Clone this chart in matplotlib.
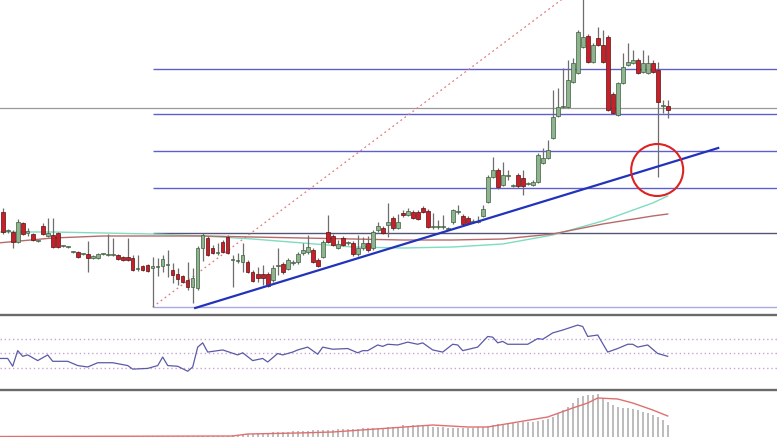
import matplotlib.pyplot as plt
import numpy as np
from matplotlib.patches import Ellipse
from matplotlib.lines import Line2D

# --- Candles (price units, one per bar) ---
opens = [102, 83, 82, 72, 91, 81, 80, 73, 88, 78,
         79, 81, 68, 67, 62, 62, 60, 60, 56, 56,
         60, 59, 59, 59, 57, 57, 56, 45, 48, 49,
         46, 47, 48, 49, 44, 40, 38, 34, 27, 26,
         66, 76, 66, 61, 72, 77, 54, 53, 52, 52,
         42, 40, 40, 40, 34, 48, 50, 45, 51, 52,
         61, 62, 64, 54, 57, 82, 78, 66, 76, 71,
         71, 60, 66, 71, 66, 84, 86, 89, 96, 86,
         101, 99, 102, 102, 106, 103, 87, 87, 87, 85,
         92, 102, 98, 96, 92, 92, 98, 112, 137, 144,
         129, 138, 128, 139, 136, 130, 129, 132, 151, 156,
         176, 198, 207, 207, 232, 241, 267, 278, 252, 276,
         269, 277, 220, 199, 231, 249, 251, 254, 242, 241,
         251, 244, 208, 208]
highs = [106, 85, 84, 95, 92, 86, 81, 74, 91, 96,
         96, 82, 69, 68, 63, 63, 61, 73, 59, 61,
         61, 80, 76, 60, 58, 76, 59, 59, 49, 50,
         57, 56, 59, 64, 51, 46, 39, 52, 46, 68,
         81, 78, 69, 71, 74, 79, 59, 61, 71, 54,
         44, 47, 49, 42, 49, 66, 52, 56, 54, 62,
         71, 79, 66, 56, 74, 99, 80, 74, 78, 73,
         73, 79, 77, 78, 84, 92, 88, 111, 98, 100,
         104, 106, 104, 104, 108, 105, 101, 94, 99, 87,
         105, 109, 100, 98, 95, 98, 109, 139, 157, 146,
         152, 144, 130, 141, 144, 132, 134, 161, 166, 174,
         224, 226, 246, 254, 256, 284, 319, 280, 271, 287,
         284, 279, 222, 232, 261, 271, 264, 256, 264, 259,
         254, 252, 214, 214]
lows = [80, 81, 66, 71, 79, 78, 73, 72, 79, 77,
        66, 66, 67, 66, 61, 56, 59, 42, 55, 55,
        59, 58, 58, 54, 53, 53, 43, 43, 43, 42,
        7, 38, 42, 37, 31, 29, 31, 24, 11, 24,
        53, 58, 60, 59, 61, 60, 27, 51, 42, 41,
        32, 32, 29, 27, 32, 39, 40, 44, 49, 50,
        59, 60, 51, 47, 56, 71, 68, 65, 68, 69,
        58, 58, 64, 62, 64, 82, 80, 77, 84, 85,
        97, 98, 95, 94, 101, 86, 85, 85, 85, 84,
        90, 100, 89, 90, 91, 91, 97, 111, 136, 125,
        128, 134, 127, 126, 119, 129, 128, 131, 150, 155,
        175, 197, 206, 206, 231, 240, 266, 251, 251, 268,
        251, 203, 200, 198, 230, 248, 250, 240, 241, 240,
        241, 137, 201, 196]
closes = [82, 83, 72, 92, 80, 83, 74, 73, 80, 81,
          67, 67, 68, 67, 62, 57, 60, 56, 58, 60,
          60, 60, 59, 55, 54, 54, 44, 45, 44, 43,
          48, 48, 55, 49, 39, 35, 32, 27, 36, 66,
          79, 59, 61, 61, 62, 61, 54, 53, 59, 42,
          33, 36, 36, 28, 46, 49, 42, 54, 51, 60,
          64, 67, 52, 48, 72, 72, 69, 70, 69, 71,
          60, 66, 71, 64, 82, 88, 81, 92, 86, 92,
          99, 103, 96, 95, 102, 87, 87, 88, 87, 85,
          104, 103, 90, 91, 92, 93, 105, 137, 144, 127,
          139, 139, 128, 128, 128, 130, 132, 159, 156, 164,
          197, 207, 207, 234, 251, 282, 277, 252, 269, 269,
          252, 204, 201, 231, 247, 252, 254, 241, 251, 251,
          242, 212, 208, 204]

# --- Moving averages (sampled at bar index) ---
ma_idx = [-1, 10, 20, 30, 40, 50, 60, 70, 80, 90, 100, 110, 120, 130, 133]
ma_fast = [82, 82, 81, 80, 78, 75, 71, 67, 66, 67, 70, 79, 93, 111, 118]
ma_slow = [71, 76, 78, 78, 78, 77, 76, 75, 74, 74, 75, 80, 90, 98, 100]

# --- Drawing tools ---
fib_low_idx, fib_low = 30, 7
fib_high_idx, fib_high = 113, 319
fib_ratios = [0, 0.236, 0.382, 0.5, 0.618, 0.764]
price_line = 206
trend_x = [38.5, 143.1]
trend_y = [6, 166]
circle_center = (130.9, 144)

# --- RSI ---
rsi_idx = [-1, 1, 2, 3, 4, 5, 7, 9, 10, 13, 15, 17, 19, 22, 25, 26, 29, 31, 32, 33,
           35, 37, 38, 39, 40, 41, 44, 47, 48, 50, 52, 53, 55, 56, 58, 59, 61, 63, 64, 66,
           69, 71, 72, 73, 75, 76, 77, 79, 81, 83, 84, 86, 88, 90, 91, 92, 95, 97, 98, 99,
           100, 101, 105, 107, 108, 110, 112, 115, 116, 117, 119, 120, 121, 123, 125, 126, 127, 129, 131, 133]
rsi_val = [43, 43, 32, 54, 46, 48, 40, 48, 39, 39, 33, 31, 37, 37, 33, 28, 29, 33, 45, 33,
           32, 25, 31, 59, 65, 52, 55, 48, 51, 40, 43, 38, 50, 48, 52, 55, 59, 49, 59, 56,
           57, 51, 54, 54, 62, 60, 63, 62, 66, 63, 65, 55, 52, 63, 62, 54, 59, 74, 73, 65,
           67, 63, 63, 71, 70, 79, 83, 90, 88, 74, 76, 64, 52, 57, 63, 63, 59, 62, 50, 46]
rsi_levels = [30, 50, 70]

# --- MACD ---
macd_hist = [1, 1, 1, 1, 1, 1, 1, 1, 1, 1,
             1, 1, 1, 1, 1, 1, 1, 1, 1, 1,
             1, 1, 1, 1, 1, 1, 1, 1, 1, 1,
             1, 1, 1, 1, 1, 1, 1, 1, 1, 1,
             1, 1, 1, 1, 1, 1, 2, 2, 3, 3,
             3, 4, 4, 4, 5, 5, 5, 5, 6, 6,
             6, 6, 7, 7, 7, 7, 7, 8, 8, 8,
             8, 8, 9, 9, 9, 9, 9, 10, 10, 10,
             12, 11, 12, 12, 11, 11, 10, 10, 10, 9,
             9, 9, 9, 9, 9, 10, 10, 11, 12, 13,
             13, 14, 14, 14, 15, 15, 15, 16, 17, 18,
             20, 24, 27, 30, 34, 39, 41, 42, 42, 43,
             39, 35, 32, 30, 29, 29, 28, 27, 25, 24,
             22, 20, 17, 12]
sig_idx = [-1, 46, 49, 59, 66, 79, 86, 93, 97, 103, 109, 114, 117, 119, 123, 126, 130, 133]
sig_val = [0.5, 1, 3, 4, 5, 9.5, 12, 10, 10, 15, 20, 29, 34, 39, 38, 34, 27, 21]

W, H = 777, 437
fig = plt.figure(figsize=(W / 100, H / 100), dpi=100)
fig.patch.set_facecolor('white')

def panel(top, bottom):
    ax = fig.add_axes([0, (H - bottom) / H, 1, (bottom - top) / H])
    ax.set_axis_off()
    ax.set_xlim(-0.54, 154.86)
    return ax

ax = panel(0, 314)
ax.set_ylim(0, 314)

# fibonacci levels
levels = [fib_low + r * (fib_high - fib_low) for r in fib_ratios]
for r, lv in zip(fib_ratios, levels):
    col = '#a9a9e6' if r == 0 else ('#555577' if r == 0.236 else '#5f5fcc')
    ax.hlines(lv, fib_low_idx, 160, color=col, lw=1.0, zorder=1)
ax.axhline(price_line, color='#9a9a9a', lw=0.9, zorder=1)
ax.plot([fib_low_idx, fib_high_idx], [fib_low, fib_high], color='#e07b7b',
        lw=0.9, ls=(0, (1.5, 2.5)), zorder=1)

# moving averages
ax.plot(ma_idx, ma_fast, color='#7fdcc0', lw=1.0, zorder=2)
ax.plot(ma_idx, ma_slow, color='#b86a6a', lw=1.0, zorder=2)

# candles
x = np.arange(len(opens))
o = np.array(opens, float)
c = np.array(closes, float)
ax.vlines(x, lows, highs, color='#6e6e6e', lw=0.9, zorder=3)
up = c >= o
body_lo = np.minimum(o, c)
body_h = np.maximum(np.abs(c - o), 1.2)
ax.bar(x[up], body_h[up], bottom=body_lo[up], width=0.72, color='#8fb38f',
       edgecolor='#3e5e3e', lw=0.5, zorder=4)
ax.bar(x[~up], body_h[~up], bottom=body_lo[~up], width=0.72, color='#c8202a',
       edgecolor='#5a1010', lw=0.5, zorder=4)

# trend line and highlight circle
ax.plot(trend_x, trend_y, color='#2233bb', lw=1.6, zorder=5)
ax.add_patch(Ellipse(circle_center, width=10.4, height=52, fill=False,
                     edgecolor='#dd2222', lw=1.5, zorder=6))

# --- RSI panel ---
ax2 = panel(316, 389)
ax2.set_ylim(0, 102.8)
for lv in rsi_levels:
    ax2.axhline(lv, color='#c7a3d8', lw=1.0, ls=(0, (1, 2)))
ax2.plot(rsi_idx, rsi_val, color='#5a5aa8', lw=0.9)

# --- MACD panel ---
ax3 = panel(391, 437)
ax3.set_ylim(0, 46)
ax3.bar(np.arange(len(macd_hist)), macd_hist, width=0.42, color='#bdbdbd')
ax3.plot(sig_idx, sig_val, color='#e07070', lw=1.0)

# panel separators
for yy in (314.5, 390):
    fig.add_artist(Line2D([0, 1], [(H - yy) / H] * 2, color='#6a6a6a', lw=1.7))

plt.savefig('out.png', dpi=100)
